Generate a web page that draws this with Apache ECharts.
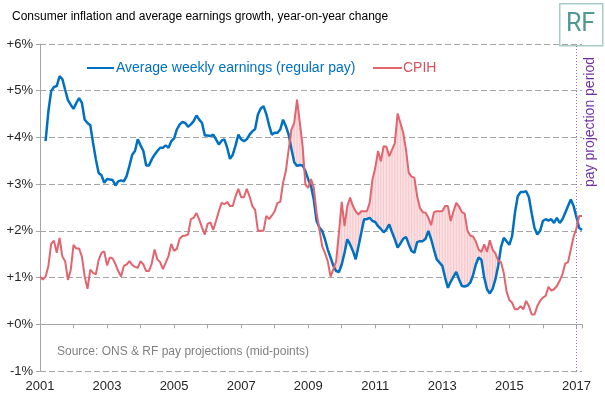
<!DOCTYPE html>
<html lang="en">
<head>
  <meta charset="UTF-8">
  <title>pay squeeze</title>
  <script src="https://cdn.jsdelivr.net/npm/echarts@6/dist/echarts.min.js"></script>
  <style>
    html, body { margin: 0; padding: 0; background: #fff; }
    #main { width: 605px; height: 397px; }
  </style>
</head>
<body>
<div id="main"></div>
<script>
  // monthly, Jan 2001 .. Mar 2017 (index 0 = Jan 2001)
  var xTickLabels = ['2001', '2003', '2005', '2007', '2009', '2011', '2013', '2015', '2017'];
  var yTickLabels = ['-1%', '+0%', '+1%', '+2%', '+3%', '+4%', '+5%', '+6%'];
  var projectionStart = 192; // Jan 2017

  // Average weekly earnings (regular pay), % y/y
  var awe = [
    null, null, 3.92, 4.56, 4.99, 5.08, 5.10, 5.31, 5.25, 5.02, 4.80, 4.70,
    4.61, 4.74, 4.84, 4.74, 4.38, 4.31, 4.26, 3.88, 3.53, 3.24, 3.19, 3.03,
    3.11, 3.10, 3.09, 2.97, 3.06, 3.08, 3.06, 3.17, 3.39, 3.63, 3.71, 3.96,
    3.83, 3.71, 3.40, 3.40, 3.53, 3.63, 3.71, 3.78, 3.78, 3.83, 3.78, 3.92,
    3.98, 4.17, 4.28, 4.33, 4.31, 4.23, 4.28, 4.35, 4.47, 4.38, 4.31, 4.04,
    4.04, 4.03, 4.06, 3.96, 3.85, 3.93, 3.96, 3.78, 3.54, 3.63, 3.83, 4.06,
    3.96, 3.92, 3.96, 4.06, 4.13, 4.18, 4.49, 4.62, 4.67, 4.50, 4.26, 4.06,
    4.10, 4.10, 4.17, 4.38, 4.24, 4.06, 3.75, 3.47, 3.39, 3.41, 3.40, 3.28,
    3.10, 2.96, 2.67, 2.21, 2.07, 2.00, 1.82, 1.60, 1.43, 1.25, 1.14, 1.12,
    1.28, 1.53, 1.82, 1.71, 1.57, 1.39, 1.67, 1.96, 2.25, 2.25, 2.28, 2.21,
    2.19, 2.10, 2.04, 1.97, 2.03, 2.14, 1.97, 1.82, 1.64, 1.73, 1.83, 1.87,
    1.71, 1.57, 1.53, 1.76, 1.78, 1.78, 1.83, 2.00, 1.82, 1.60, 1.39, 1.32,
    1.25, 1.00, 0.78, 0.91, 1.02, 1.12, 0.96, 0.82, 0.81, 0.83, 0.89, 1.05,
    1.28, 1.43, 1.38, 1.00, 0.75, 0.66, 0.76, 0.96, 1.25, 1.65, 1.85, 1.78,
    1.70, 1.89, 2.39, 2.74, 2.83, 2.83, 2.85, 2.72, 2.37, 2.06, 1.92, 2.00,
    2.21, 2.25, 2.22, 2.25, 2.17, 2.28, 2.17, 2.25, 2.39, 2.53, 2.67, 2.53,
    2.30, 2.06, 2.02
  ];

  // CPIH, % y/y
  var cpih = [
    1.02, 0.96, 1.02, 1.25, 1.72, 1.79, 1.53, 1.85, 1.45, 1.35, 0.95, 1.16,
    1.70, 1.62, 1.62, 1.45, 1.02, 0.76, 1.17, 1.10, 1.07, 1.38, 1.53, 1.56,
    1.26, 1.43, 1.41, 1.29, 1.14, 1.02, 1.25, 1.28, 1.35, 1.27, 1.23, 1.21,
    1.35, 1.28, 1.14, 1.14, 1.30, 1.60, 1.39, 1.33, 1.18, 1.32, 1.46, 1.72,
    1.57, 1.62, 1.83, 1.89, 1.90, 1.92, 2.25, 2.28, 2.38, 2.24, 2.07, 1.92,
    2.15, 2.18, 2.02, 2.21, 2.42, 2.60, 2.57, 2.62, 2.53, 2.53, 2.74, 2.90,
    2.72, 2.72, 2.90, 2.74, 2.53, 2.45, 2.00, 2.00, 2.00, 2.32, 2.25, 2.33,
    2.42, 2.60, 2.62, 3.03, 3.28, 3.74, 4.17, 4.31, 4.81, 4.31, 3.81, 2.99,
    2.92, 3.11, 2.92, 2.39, 2.03, 1.67, 1.53, 1.35, 1.02, 1.18, 1.35, 1.96,
    2.62, 2.10, 2.53, 2.71, 2.53, 2.42, 2.35, 2.42, 2.42, 2.42, 2.60, 3.10,
    3.35, 3.71, 3.49, 3.81, 3.80, 3.60, 3.74, 3.88, 4.51, 4.31, 4.10, 3.74,
    3.24, 3.16, 3.14, 2.74, 2.49, 2.40, 2.39, 2.28, 2.12, 2.40, 2.42, 2.42,
    2.42, 2.53, 2.53, 2.21, 2.42, 2.60, 2.52, 2.40, 2.37, 2.00, 1.90, 1.88,
    1.77, 1.60, 1.55, 1.71, 1.55, 1.80, 1.60, 1.52, 1.36, 1.33, 1.10, 0.70,
    0.52, 0.46, 0.32, 0.32, 0.39, 0.32, 0.50, 0.39, 0.21, 0.21, 0.39, 0.50,
    0.57, 0.61, 0.80, 0.72, 0.75, 0.82, 0.93, 1.07, 1.30, 1.33, 1.60, 1.88,
    2.05, 2.32, 2.32
  ];

  var blue = '#0070c0';
  var pink = '#e2646e';
  var font = '"Liberation Sans", Arial, sans-serif';

  var lastIdx = cpih.length - 1;

  function toPairs(arr) {
    var out = [];
    for (var i = 0; i < arr.length; i++) {
      if (arr[i] != null) out.push([i, arr[i]]);
    }
    return out;
  }

  // segments for the "pay squeeze" band (CPIH above earnings), before projections
  var bandData = [];
  for (var i = 0; i < projectionStart; i++) {
    if (awe[i] == null || awe[i + 1] == null) continue;
    bandData.push([i, awe[i], cpih[i], awe[i + 1], cpih[i + 1]]);
  }

  function renderBand(params, api) {
    var i = api.value(0);
    var a0 = api.value(1), c0 = api.value(2), a1 = api.value(3), c1 = api.value(4);
    var d0 = c0 - a0, d1 = c1 - a1;
    var kids = [];
    if (d0 > 0 || d1 > 0) {
      var pts;
      if (d0 > 0 && d1 > 0) {
        pts = [[i, a0], [i + 1, a1], [i + 1, c1], [i, c0]];
      } else {
        var t = d0 / (d0 - d1);
        var xc = i + t, yc = a0 + t * (a1 - a0);
        pts = d0 > 0 ? [[i, a0], [xc, yc], [i, c0]] : [[xc, yc], [i + 1, a1], [i + 1, c1]];
      }
      kids.push({
        type: 'polygon',
        shape: {points: pts.map(function (p) { return api.coord(p); })},
        style: {fill: '#fbe1e3', stroke: '#fbe1e3', lineWidth: 0.6}
      });
    }
    if (d0 > 0) {
      var p1 = api.coord([i, a0]), p2 = api.coord([i, c0]);
      kids.push({
        type: 'line',
        shape: {x1: p1[0], y1: p1[1], x2: p2[0], y2: p2[1]},
        style: {stroke: '#f5c6ca', lineWidth: 1}
      });
    }
    return {type: 'group', children: kids};
  }

  var myChart = echarts.init(document.getElementById('main'));
  myChart.setOption({
    backgroundColor: '#fff',
    animation: false,
    textStyle: {fontFamily: font},
    title: {
      text: 'Consumer inflation and average earnings growth, year-on-year change',
      left: 7,
      top: 6,
      textStyle: {fontSize: 12, fontWeight: 'normal', color: '#000', fontFamily: font}
    },
    legend: [
      {
        left: 87, top: 61, padding: 0,
        icon: 'rect', itemWidth: 27, itemHeight: 2,
        data: [{name: 'Average weekly earnings (regular pay)', textStyle: {color: blue}}],
        textStyle: {fontSize: 14, fontFamily: font, padding: [0, 0, 0, -3]}
      },
      {
        left: 373, top: 61, padding: 0,
        icon: 'rect', itemWidth: 29, itemHeight: 2,
        data: [{name: 'CPIH', textStyle: {color: '#d9505b'}}],
        textStyle: {fontSize: 14, fontFamily: font, padding: [0, 0, 0, -4]}
      }
    ],
    grid: {left: 40, right: 23, top: 44, bottom: 26, containLabel: false},
    xAxis: [
      {
        type: 'value', min: 0, max: lastIdx, interval: 12,
        position: 'bottom',
        axisLine: {show: false, onZero: false},
        axisTick: {show: false},
        splitLine: {show: false},
        axisLabel: {
          fontSize: 13, color: '#262626', margin: 9, fontFamily: font,
          showMaxLabel: false,
          formatter: function (v) {
            return v % 24 === 0 ? xTickLabels[v / 24] : '';
          }
        }
      },
      {
        type: 'value', min: 0, max: lastIdx, interval: 12,
        position: 'bottom',
        axisLine: {show: true, onZero: true, lineStyle: {color: '#a6a6a6', width: 1}},
        axisTick: {show: true, length: 4, lineStyle: {color: '#a6a6a6'}},
        splitLine: {show: false},
        axisLabel: {show: false}
      }
    ],
    yAxis: {
      type: 'value', min: -1, max: 6, interval: 1,
      axisLine: {show: true, lineStyle: {color: '#a6a6a6'}},
      axisTick: {show: true, length: 4, lineStyle: {color: '#a6a6a6'}},
      splitLine: {show: true, lineStyle: {color: '#a6a6a6', type: [6, 3], width: 1}},
      axisLabel: {
        fontSize: 13, color: '#262626', margin: 7, fontFamily: font,
        formatter: function (v) { return yTickLabels[v + 1]; }
      }
    },
    graphic: [
      {
        type: 'rect', left: 559, top: 3,
        shape: {width: 43, height: 42},
        style: {fill: '#fff', stroke: '#a9cccb', lineWidth: 1.5}
      },
      {
        type: 'text', x: 580.5, y: 25,
        style: {text: 'RF', fill: '#4f9894', font: '400 25px Roboto, sans-serif',
                textAlign: 'center', textVerticalAlign: 'middle'}
      },
      {
        type: 'text', x: 590, y: 122, rotation: Math.PI / 2,
        style: {text: 'pay projection period', fill: '#7030a0', font: '14px ' + font,
                textAlign: 'center', textVerticalAlign: 'middle'}
      },
      {
        type: 'text', x: 392, y: 201,
        style: {text: 'Pay\nsqueeze', fill: '#c4313c', font: '13px ' + font, lineHeight: 14,
                textAlign: 'center', textVerticalAlign: 'middle'}
      },
      {
        type: 'text', x: 57, y: 352,
        style: {text: 'Source: ONS & RF pay projections (mid-points)', fill: '#808080',
                font: '12px ' + font, textVerticalAlign: 'middle'}
      }
    ],
    series: [
      {
        name: 'squeeze',
        type: 'custom',
        renderItem: renderBand,
        data: bandData,
        encode: {x: 0, y: [1, 2]},
        clip: true,
        silent: true,
        z: 1
      },
      {
        name: 'Average weekly earnings (regular pay)',
        type: 'line',
        data: toPairs(awe),
        showSymbol: false,
        color: blue,
        lineStyle: {color: blue, width: 2.5},
        z: 3,
        markLine: {
          silent: true,
          symbol: 'none',
          label: {show: false},
          lineStyle: {color: '#9a6acb', type: [1, 2], width: 1},
          data: [{xAxis: projectionStart}]
        }
      },
      {
        name: 'CPIH',
        type: 'line',
        data: toPairs(cpih),
        showSymbol: false,
        color: pink,
        lineStyle: {color: pink, width: 2},
        z: 4
      }
    ]
  });
</script>
</body>
</html>
